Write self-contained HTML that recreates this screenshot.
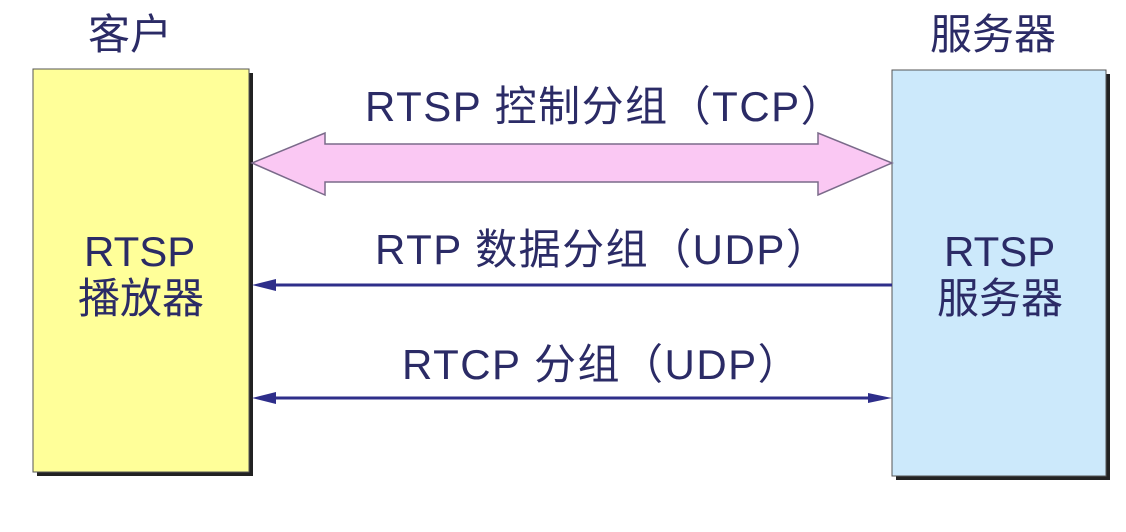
<!DOCTYPE html>
<html><head><meta charset="utf-8"><style>
body{margin:0;background:#fff;width:1126px;height:532px;overflow:hidden;position:relative;font-family:"Liberation Sans","Noto Sans CJK SC",sans-serif;color:#2b2b66}
.t{position:absolute;font-size:42px;white-space:nowrap;line-height:1}
.s{letter-spacing:1.5px}
</style></head><body>
<svg width="1126" height="532" style="position:absolute;left:0;top:0">
<rect x="37" y="73" width="216" height="403" fill="#222"/>
<rect x="33" y="69" width="216" height="403" fill="#ffff99" stroke="#555" stroke-width="1"/>
<rect x="896" y="74" width="214" height="406" fill="#222"/>
<rect x="892" y="70" width="214" height="406" fill="#cce9fb" stroke="#555" stroke-width="1"/>
<polygon points="252,163 325,133 325,144 818,144 818,133 892,163 818,195 818,182 325,182 325,195" fill="#fac8f3" stroke="#7a6a8a" stroke-width="1.5"/>
<line x1="262" y1="285" x2="892" y2="285" stroke="#2e2e8a" stroke-width="3"/>
<polygon points="252,285 276,279 276,291" fill="#2e2e8a"/>
<line x1="262" y1="398" x2="882" y2="398" stroke="#2e2e8a" stroke-width="3"/>
<polygon points="252,398 276,392 276,404" fill="#2e2e8a"/>
<polygon points="892,398 868,393 868,403" fill="#2e2e8a"/>
</svg>
<div class="t" style="left:88px;top:14px">客户</div>
<div class="t" style="left:930px;top:14px">服务器</div>
<div class="t s" style="left:365px;top:86px">RTSP 控制分组（TCP）</div>
<div class="t s" style="left:375px;top:229px">RTP 数据分组（UDP）</div>
<div class="t s" style="left:402px;top:344px">RTCP 分组（UDP）</div>
<div class="t" style="left:84px;top:231px">RTSP</div>
<div class="t" style="left:78px;top:278px">播放器</div>
<div class="t" style="left:944px;top:231px">RTSP</div>
<div class="t" style="left:937px;top:278px">服务器</div>
</body></html>
